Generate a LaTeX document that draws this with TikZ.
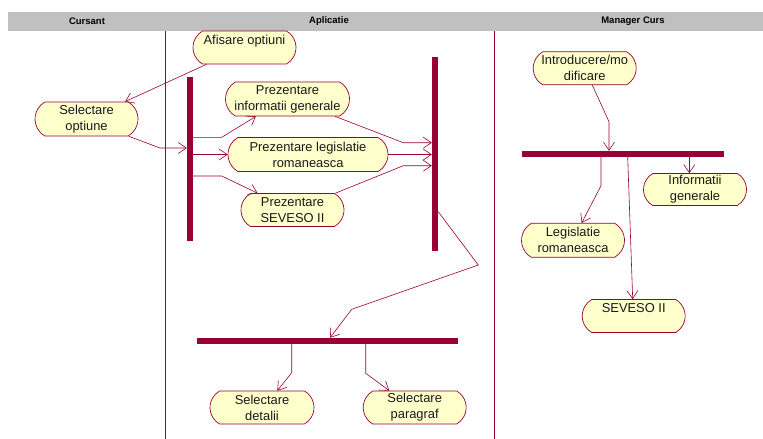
\documentclass[tikz,border=0pt]{standalone}
\usepackage{fontspec}
\setmainfont{Liberation Sans}
\usetikzlibrary{shapes.misc,arrows.meta}
\definecolor{umlred}{HTML}{990033}
\definecolor{umlfill}{HTML}{FFFFCC}
\definecolor{headgray}{HTML}{C0C0C0}
\tikzset{
  act/.style={rounded rectangle, rounded rectangle arc length=120, draw=umlred,
    fill=umlfill, line width=0.7pt, minimum width=107pt, minimum height=33pt,
    inner xsep=2pt, inner ysep=1pt, align=center, text=black!90,
    font=\fontsize{12.9}{16}\selectfont},
  syncbar/.style={rectangle, fill=umlred, draw=none, inner sep=0pt},
  flow/.style={draw=umlred, line width=0.6pt,
    -{Straight Barb[length=8pt,width=11pt,line width=0.6pt]}},
  lane/.style={draw=umlred, line width=0.7pt},
  lanehead/.style={font=\bfseries\fontsize{9.5}{11}\selectfont, text=black}
}
\begin{document}
\begin{tikzpicture}[x=1pt,y=-1pt]
\useasboundingbox (0,0) rectangle (763,439);
% header strip and swimlane separators
\fill[headgray] (8,12) rectangle (763,31);
\node[lanehead] (hcur) at (87,21.5) {Cursant};
\node[lanehead] (happ) at (329,21.5) {Aplicatie};
\node[lanehead] (hman) at (633,21.5) {Manager Curs};
\draw[lane] (165,31) -- (165,439);
\draw[lane] (494,31) -- (494,439);

% activities
\node[act] (afis) at (244.5,47.5) {Afisare optiuni\\\mbox{}};
\node[act, minimum height=34pt] (selopt) at (86.5,119) {Selectare\\optiune};
\node[act, minimum width=128pt, minimum height=34pt] (pinfo) at (287.5,99) {Prezentare\\informatii generale};
\node[act, minimum width=164pt, minimum height=34pt] (pleg) at (308,154.5) {Prezentare legislatie\\romaneasca};
\node[act] (psev) at (292.5,210) {Prezentare\\SEVESO II};
\node[act, minimum width=108pt] (seldet) at (262,407.5) {Selectare\\detalii};
\node[act] (selpar) at (414.7,407.5) {Selectare\\paragraf};
\node[act] (intro) at (584.7,68.3) {Introducere/mo\\dificare};
\node[act, minimum height=32pt] (infogen) at (695,189.5) {Informatii\\generale};
\node[act, minimum height=34pt] (legis) at (573,240.3) {Legislatie\\romaneasca};
\node[act] (seveso) at (633.7,316) {SEVESO II\\\mbox{}};

% synchronisation bars
\node[syncbar, minimum width=6pt, minimum height=164pt] (fork) at (190,159) {};
\node[syncbar, minimum width=6pt, minimum height=194pt] (join) at (435,154) {};
\node[syncbar, minimum width=261pt, minimum height=6pt] (hbar) at (327.5,341) {};
\node[syncbar, minimum width=202pt, minimum height=6pt] (mbar) at (623,154) {};

% transitions
\draw[flow] ([xshift=-38pt]afis.south) -- ([xshift=38.5pt]selopt.north);
\draw[flow] ([xshift=42.5pt]selopt.south) -- (160,148) -- (fork.west |- 0,148);
\draw[flow] (fork.east |- 0,137.3) -- (221.7,137.3) -- ([xshift=-31.5pt]pinfo.south);
\draw[flow] (fork.east |- pleg.west) -- (pleg.west);
\draw[flow] (fork.east |- 0,176) -- (221.7,176) -- ([xshift=-35pt]psev.north);
\draw[flow] ([xshift=47.5pt]pinfo.south) -- (403.3,142.7) -- (join.west |- 0,142.7);
\draw[flow] (pleg.east) -- (join.west |- pleg.east);
\draw[flow] ([xshift=43pt]psev.north) -- (403.3,165.7) -- (join.west |- 0,165.7);
\draw[flow] (join.east |- 0,211.7) -- (478.3,265) -- (351.7,309.3) -- ([xshift=2.5pt]hbar.north);
\draw[flow] ([xshift=-35.8pt]hbar.south) -- (291.7,372.7) -- ([xshift=15.3pt]seldet.north);
\draw[flow] ([xshift=38.2pt]hbar.south) -- (365.7,373.3) -- ([xshift=-25.4pt]selpar.north);
\draw[flow] ([xshift=7.6pt]intro.south) -- (609,121.7) -- (mbar.north -| 609,0);
\draw[flow] (mbar.south -| 689.3,0) -- (infogen.north -| 689.3,0);
\draw[flow] (mbar.south -| 601,0) -- (601,185.7) -- ([xshift=8.7pt]legis.north);
\draw[flow] (mbar.south -| 627.7,0) -- ([xshift=-1pt]seveso.north);
\end{tikzpicture}
\end{document}
